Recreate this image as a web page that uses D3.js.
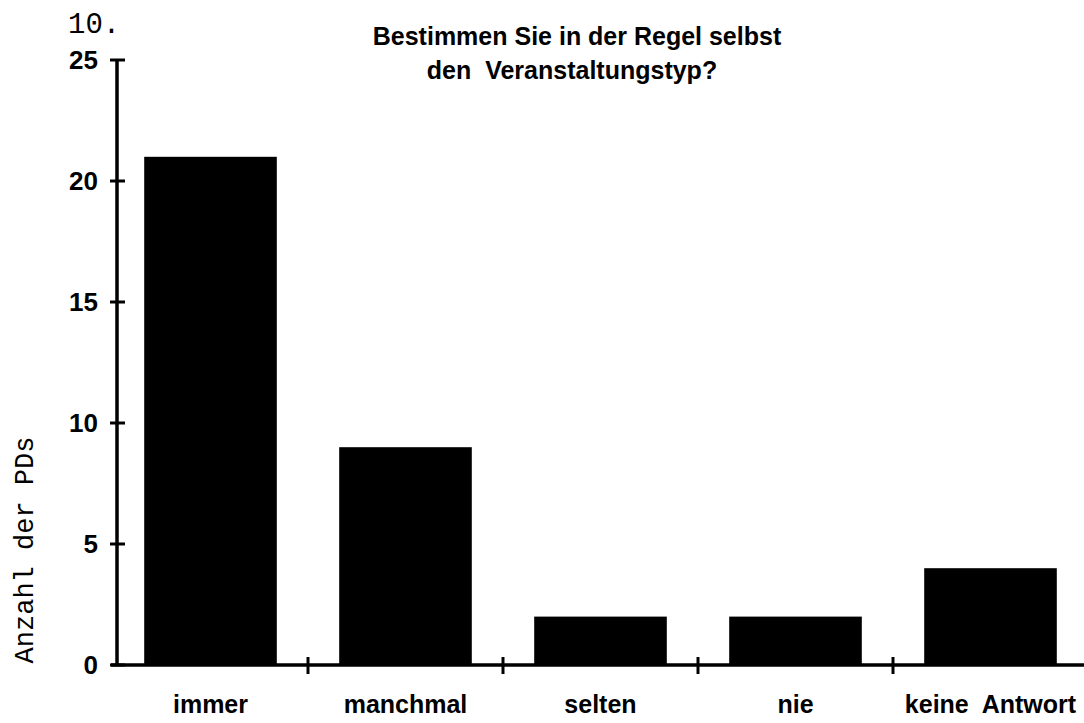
<!DOCTYPE html>
<html>
<head>
<meta charset="utf-8">
<script src="https://cdn.jsdelivr.net/npm/d3@7"></script>
<style>
  body { margin: 0; background: #fff; }
  svg { display: block; }
</style>
</head>
<body>
<svg width="1084" height="723"></svg>
<script>
// data
var categories = ["immer", "manchmal", "selten", "nie", "keine  Antwort"];
var counts = [21, 9, 2, 2, 4];
var yTicks = [0, 5, 10, 15, 20, 25];
var titleLines = ["Bestimmen Sie in der Regel selbst", "den  Veranstaltungstyp?"];

var svg = d3.select("svg"),
    width = +svg.attr("width"),
    height = +svg.attr("height");

var sans = "'Liberation Sans', Arial, Helvetica, sans-serif";
var mono = "'Liberation Mono', 'Courier New', monospace";

// scales
var x = d3.scaleBand()
          .domain(categories)
          .range([113, 1088]);
var y = d3.scaleLinear()
          .domain([0, 25])
          .range([665, 60]);
var barW = x.bandwidth() * 0.68;
var axisX = 117;

// bars
svg.append("g").selectAll("rect")
    .data(categories)
  .enter().append("rect")
    .attr("x", function(d) { return x(d) + (x.bandwidth() - barW) / 2; })
    .attr("y", function(d, i) { return y(counts[i]); })
    .attr("width", barW)
    .attr("height", function(d, i) { return y(0) - y(counts[i]); })
    .style("fill", "#000");

// y axis
svg.append("line")
  .attr("x1", axisX).attr("x2", axisX)
  .attr("y1", y(25)).attr("y2", y(0))
  .style("stroke", "#000").style("stroke-width", 3.5);

var yt = svg.append("g").selectAll("g")
    .data(yTicks)
  .enter().append("g")
    .attr("transform", function(d) { return "translate(0," + y(d) + ")"; });
yt.append("line")
  .attr("x1", axisX - 7).attr("x2", axisX + 8)
  .style("stroke", "#000").style("stroke-width", 3);
yt.append("text")
  .attr("x", 98)
  .attr("dy", "0.36em")
  .attr("text-anchor", "end")
  .style("font-family", sans)
  .style("font-weight", "bold")
  .style("font-size", "26px")
  .text(function(d) { return d; });

// x axis
svg.append("line")
  .attr("x1", axisX - 6).attr("x2", width)
  .attr("y1", y(0)).attr("y2", y(0))
  .style("stroke", "#000").style("stroke-width", 3.5);

svg.append("g").selectAll("line")
    .data(categories.slice(1))
  .enter().append("line")
    .attr("x1", function(d) { return x(d); })
    .attr("x2", function(d) { return x(d); })
    .attr("y1", y(0) - 8).attr("y2", y(0) + 9)
    .style("stroke", "#000").style("stroke-width", 3);

svg.append("g").selectAll("text")
    .data(categories)
  .enter().append("text")
    .attr("x", function(d) { return x(d) + x.bandwidth() / 2; })
    .attr("y", 713)
    .attr("text-anchor", "middle")
    .style("font-family", sans)
    .style("font-weight", "bold")
    .style("font-size", "25px")
    .style("white-space", "pre")
    .text(function(d) { return d; });

// title
svg.append("g").selectAll("text")
    .data(titleLines)
  .enter().append("text")
    .attr("x", function(d, i) { return i === 0 ? 577 : 572; })
    .attr("y", function(d, i) { return 45 + i * 34; })
    .attr("text-anchor", "middle")
    .style("font-family", sans)
    .style("font-weight", "bold")
    .style("font-size", "25px")
    .style("white-space", "pre")
    .text(function(d) { return d; });

// page number
svg.append("text")
  .attr("x", 68).attr("y", 33)
  .style("font-family", mono)
  .style("font-size", "29px")
  .text("10.");

// y label
svg.append("text")
  .attr("transform", "translate(33,550) rotate(-90)")
  .attr("text-anchor", "middle")
  .style("font-family", mono)
  .style("font-size", "27px")
  .text("Anzahl der PDs");
</script>
</body>
</html>
